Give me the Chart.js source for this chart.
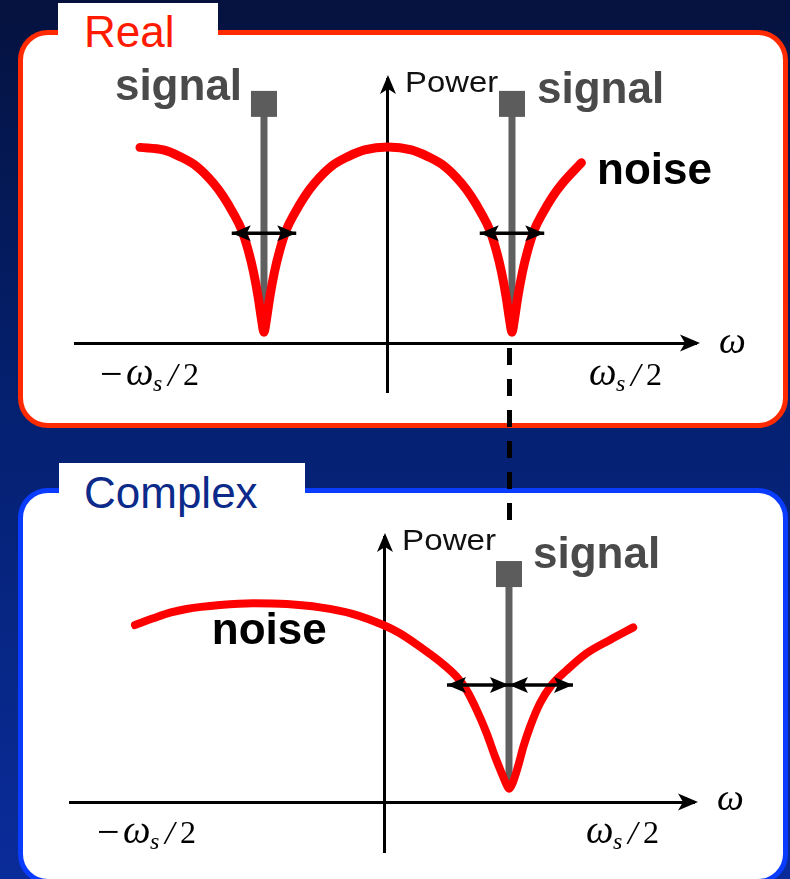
<!DOCTYPE html>
<html>
<head>
<meta charset="utf-8">
<script src="https://cdn.jsdelivr.net/npm/chart.js@4.4.0/dist/chart.umd.min.js"></script>
<style>
  html, body { margin: 0; padding: 0; }
  body {
    width: 790px; height: 879px; overflow: hidden; position: relative;
    background: linear-gradient(to bottom, #05123f 0%, #04206f 45%, #0a2c9a 100%);
    font-family: "Liberation Sans", Arial, sans-serif;
  }
  .panel { position: absolute; left: 18px; width: 770px; box-sizing: border-box; border-radius: 30px; background: #fff; }
  #realPanel { top: 30px; height: 398px; border: 5px solid #ff2a00; }
  #cplxPanel { top: 488px; height: 396px; border: 5px solid #0a3cff; }
  .tab { position: absolute; background: #fff; font-size: 44px; line-height: 44px; }
  .tab span { position: absolute; white-space: nowrap; }
  #realTab { left: 58px; top: 3px; width: 160px; height: 34px; }
  #realTab span { left: 26px; top: 7px; color: #ff1a00; }
  #cplxTab { left: 59px; top: 463px; width: 246px; height: 32px; }
  #cplxTab span { left: 25px; top: 8px; color: #0b2a8a; }
  canvas { position: absolute; left: 0; top: 0; }
</style>
</head>
<body>
<div class="panel" id="realPanel"></div>
<div class="tab" id="realTab"><span>Real</span></div>
<div class="panel" id="cplxPanel"></div>
<div class="tab" id="cplxTab"><span>Complex</span></div>
<canvas id="cplxChart" width="790" height="879"></canvas>
<canvas id="realChart" width="790" height="879"></canvas>
<script>
// frequency in units of ws/2, power in units of the noise maximum

// real sampling: noise folded, notches at +-ws/4
const realNoiseW = [-1.000, -0.906, -0.839, -0.771, -0.704, -0.664, -0.624, -0.590, -0.563, -0.543, -0.523, -0.509, -0.500,
                    -0.491, -0.477, -0.457, -0.437, -0.410, -0.376, -0.336, -0.296, -0.229, -0.161, -0.094, 0.000,
                    0.094, 0.161, 0.229, 0.296, 0.336, 0.376, 0.410, 0.437, 0.457, 0.477, 0.491, 0.500,
                    0.509, 0.523, 0.543, 0.563, 0.590, 0.624, 0.664, 0.704, 0.780];
const realNoiseP = [0.998, 0.985, 0.951, 0.901, 0.816, 0.748, 0.663, 0.577, 0.470, 0.367, 0.231, 0.112, 0.055,
                    0.112, 0.231, 0.367, 0.470, 0.577, 0.663, 0.748, 0.816, 0.901, 0.951, 0.985, 1.000,
                    0.985, 0.951, 0.901, 0.816, 0.748, 0.663, 0.577, 0.470, 0.367, 0.231, 0.112, 0.055,
                    0.112, 0.231, 0.367, 0.470, 0.577, 0.663, 0.748, 0.816, 0.920];
const realSignalW = [-0.5, 0.5];
const realSignalP = [0.06, 1.22];
const realArrowW = [[-0.63, -0.37], [0.37, 0.63]];
const realArrowP = 0.56;
const realLinkW = 0.49;
const realLinkP = [-0.025, -0.93];

// complex sampling: one notch at the signal
const cplxNoiseW = [-1.008, -0.934, -0.867, -0.800, -0.665, -0.531, -0.396, -0.262, -0.128, -0.007, 0.060, 0.141, 0.222,
                    0.289, 0.329, 0.370, 0.410, 0.444, 0.471, 0.488, 0.500, 0.514, 0.536, 0.558, 0.585, 0.625, 0.672,
                    0.733, 0.813, 0.907, 1.001];
const cplxNoiseP = [0.903, 0.937, 0.966, 0.985, 1.005, 1.014, 1.010, 0.993, 0.959, 0.903, 0.861, 0.792, 0.716,
                    0.639, 0.571, 0.469, 0.351, 0.231, 0.146, 0.095, 0.068, 0.095, 0.180, 0.282, 0.384, 0.504, 0.597,
                    0.673, 0.759, 0.827, 0.891];
const cplxSignalW = [0.5];
const cplxSignalP = [0.06, 1.163];
const cplxArrowW = [[0.25, 0.5], [0.5, 0.758]];
const cplxArrowP = 0.597;

const xTicks = [-0.96, 0.96];

function head(ctx, x, y, ang, len, half, notch) {
  ctx.save();
  ctx.translate(x, y);
  ctx.rotate(ang);
  ctx.beginPath();
  ctx.moveTo(0, 0);
  ctx.lineTo(-len, -half);
  ctx.lineTo(-len + notch, 0);
  ctx.lineTo(-len, half);
  ctx.closePath();
  ctx.fill();
  ctx.restore();
}

// -ws/2 and ws/2, set piece by piece
function drawOmegaHalf(ctx, cx, base, neg) {
  var parts = [];
  if (neg) parts.push({t: '\u2212', f: '40px "Liberation Serif"', adv: 26, dy: 2});
  parts.push({t: '\u03c9', f: 'italic 39px "Liberation Serif"', adv: 27, dy: 0});
  parts.push({t: 's', f: 'italic 24px "Liberation Serif"', adv: 15, dy: 6});
  parts.push({t: '/', f: 'italic 34px "Liberation Serif"', adv: 15, dy: 1});
  parts.push({t: '2', f: '32px "Liberation Serif"', adv: 17, dy: 0});
  var total = 0;
  parts.forEach(function(p){ total += p.adv; });
  var x = cx - total / 2;
  ctx.fillStyle = '#000';
  ctx.textAlign = 'left';
  ctx.textBaseline = 'alphabetic';
  parts.forEach(function(p){
    ctx.font = p.f;
    ctx.fillText(p.t, x, base + p.dy);
    x += p.adv;
  });
}

const decor = {
  id: 'decor',
  afterDatasetsDraw(chart) {
    var ctx = chart.ctx;
    ctx.save();
    ctx.fillStyle = '#000';
    chart.data.datasets.forEach(function(ds, i){
      if (!ds.arrow) return;
      var pts = chart.getDatasetMeta(i).data;
      var a = pts[0], b = pts[pts.length - 1];
      head(ctx, a.x, a.y, Math.PI, 19, 8, 4);
      head(ctx, b.x, b.y, 0, 19, 8, 4);
    });
    ctx.restore();
  },
  afterDraw(chart, args, opts) {
    var ctx = chart.ctx, area = chart.chartArea;
    var xs = chart.scales.x, ys = chart.scales.y;
    var x0 = xs.getPixelForValue(0), y0 = ys.getPixelForValue(0);
    ctx.save();
    ctx.fillStyle = '#000';
    // arrow tips of the axes
    head(ctx, area.right + 4, y0, 0, 20, 8.5, 5);
    head(ctx, x0, area.top - 4, -Math.PI / 2, 19, 8, 5);
    ctx.font = 'italic 38px "Liberation Serif"';
    ctx.textAlign = 'left';
    ctx.fillText('\u03c9', area.right + 23, y0 + opts.omegaDy);
    xTicks.forEach(function(v){
      drawOmegaHalf(ctx, xs.getPixelForValue(v), y0 + opts.tickDy, v < 0);
    });
    opts.notes.forEach(function(n){
      var px = xs.getPixelForValue(n.x), py = ys.getPixelForValue(n.y);
      ctx.font = n.font;
      ctx.fillStyle = n.color;
      ctx.save();
      ctx.translate(px, py);
      if (n.w) ctx.scale(n.w / ctx.measureText(n.text).width, 1);
      ctx.fillText(n.text, 0, 0);
      ctx.restore();
    });
    ctx.restore();
  }
};

function pts(ws, ps) {
  return ws.map(function(w, i){ return {x: w, y: ps[i]}; });
}

function buildDatasets(noiseW, noiseP, noiseWidth, sigW, sigP, arrW, arrP) {
  var sets = [];
  arrW.forEach(function(a){
    sets.push({data: [{x: a[0], y: arrP}, {x: a[1], y: arrP}], arrow: true,
      borderColor: '#000', borderWidth: 3.5, pointRadius: 0, tension: 0});
  });
  sets.push({data: pts(noiseW, noiseP), borderColor: '#ff0000', borderWidth: noiseWidth,
    pointRadius: 0, cubicInterpolationMode: 'monotone', borderCapStyle: 'round', borderJoinStyle: 'round'});
  sigW.forEach(function(w){
    sets.push({data: [{x: w, y: sigP[0]}, {x: w, y: sigP[1]}], borderColor: '#606060', borderWidth: 7,
      tension: 0, pointRadius: [0, 18.4], pointStyle: 'rect', pointBackgroundColor: '#5c5c5c',
      pointBorderWidth: 0});
  });
  return sets;
}

function axes(xmin, xmax, ymin, ymax) {
  var b = {display: true, color: '#000', width: 3};
  return {
    x: {type: 'linear', min: xmin, max: xmax, position: {y: 0}, z: 1,
        grid: {display: false, drawTicks: false}, ticks: {display: false}, border: b},
    y: {type: 'linear', min: ymin, max: ymax, position: {x: 0}, z: 1,
        grid: {display: false, drawTicks: false}, ticks: {display: false}, border: b}
  };
}

var signalFont = 'bold 44px "Liberation Sans"';
var powerFont = '30px "Liberation Sans"';

// top panel: real
var realSets = buildDatasets(realNoiseW, realNoiseP, 9, realSignalW, realSignalP, realArrowW, realArrowP);
realSets.push({data: [{x: realLinkW, y: realLinkP[0]}, {x: realLinkW, y: realLinkP[1]}], borderColor: '#000',
  borderWidth: 5, borderDash: [17, 14], pointRadius: 0, tension: 0, clip: false});

new Chart(document.getElementById('realChart'), {
  type: 'line',
  data: {datasets: realSets},
  plugins: [decor],
  options: {
    responsive: false, animation: false,
    layout: {padding: {left: 75, right: 94, top: 79, bottom: 487}},
    scales: axes(-1.262, 1.242, -0.25, 1.347),
    plugins: {
      legend: {display: false}, tooltip: {enabled: false},
      decor: {
        omegaDy: 10, tickDy: 42,
        notes: [
          {text: 'signal', x: -1.101, y: 1.24, font: signalFont, color: '#4a4a4a'},
          {text: 'signal', x: 0.601, y: 1.224, font: signalFont, color: '#4a4a4a'},
          {text: 'noise', x: 0.843, y: 0.811, font: signalFont, color: '#000'},
          {text: 'Power', x: 0.069, y: 1.281, font: powerFont, color: '#111', w: 93}
        ]
      }
    }
  }
});

// bottom panel: complex
new Chart(document.getElementById('cplxChart'), {
  type: 'line',
  data: {datasets: buildDatasets(cplxNoiseW, cplxNoiseP, 8, cplxSignalW, cplxSignalP, cplxArrowW, cplxArrowP)},
  plugins: [decor],
  options: {
    responsive: false, animation: false,
    layout: {padding: {left: 70, right: 96, top: 537, bottom: 27}},
    scales: axes(-1.270, 1.246, -0.255, 1.352),
    plugins: {
      legend: {display: false}, tooltip: {enabled: false},
      decor: {
        omegaDy: 8, tickDy: 41,
        notes: [
          {text: 'signal', x: 0.597, y: 1.194, font: signalFont, color: '#4a4a4a'},
          {text: 'noise', x: -0.698, y: 0.806, font: signalFont, color: '#000'},
          {text: 'Power', x: 0.069, y: 1.286, font: powerFont, color: '#111', w: 94}
        ]
      }
    }
  }
});
</script>
</body>
</html>
